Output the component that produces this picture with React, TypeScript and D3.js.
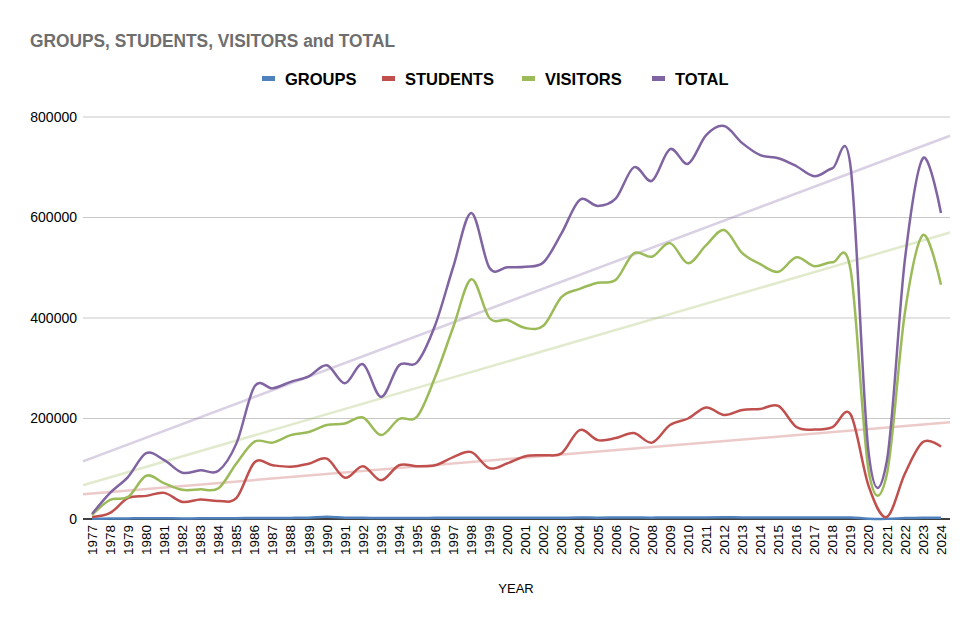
import { useMemo } from "react";
import * as d3 from "d3";

const WIDTH = 980;
const HEIGHT = 628;

const years = d3.range(1977, 2025);

const groups = [
    400, 900, 1200, 1500, 1400, 1200, 1300, 1300, 1500, 2200, 2100, 2200, 2600, 4500, 2400, 2300,
    1900, 2200, 2100, 2300, 2500, 2700, 2300, 2300, 2400, 2400, 2600, 2800, 2700, 2800, 2900, 2700,
    3000, 3000, 3200, 3300, 3200, 3100, 3000, 2900, 2800, 2900, 3000, 600, 300, 1800, 2600, 2400,
];
const students = [
    4000, 12000, 42000, 46000, 52000, 34000, 39000, 36000, 42000, 113000, 107000, 104000, 110000,
    120000, 82000, 105000, 77000, 107000, 105000, 107000, 123000, 133000, 101000, 111000, 125000,
    127000, 131000, 177000, 157000, 161000, 171000, 152000, 187000, 200000, 222000, 207000, 217000,
    219000, 225000, 183000, 178000, 183000, 208000, 65000, 4000, 90000, 153000, 144000,
];
const visitors = [
    8000, 38000, 44000, 86000, 71000, 58000, 59000, 61000, 111000, 154000, 152000, 167000, 173000,
    187000, 190000, 202000, 167000, 199000, 204000, 283000, 382000, 477000, 400000, 396000, 380000,
    385000, 442000, 458000, 470000, 476000, 529000, 522000, 549000, 509000, 545000, 575000, 529000,
    507000, 492000, 521000, 503000, 511000, 495000, 95000, 88000, 410000, 565000, 466000,
];
const total = [
    10000, 52000, 84000, 131000, 117000, 92000, 97000, 96000, 151000, 264000, 260000, 273000, 284000,
    306000, 270000, 308000, 243000, 306000, 312000, 386000, 502000, 609000, 500000, 501000, 502000,
    511000, 569000, 635000, 623000, 638000, 700000, 673000, 736000, 707000, 764000, 782000, 748000,
    724000, 718000, 702000, 682000, 698000, 700000, 130000, 115000, 515000, 718000, 609000,
];

const yTicks = [0, 200000, 400000, 600000, 800000];

const series = [
    { name: "GROUPS", values: groups, color: "#4f81bd" },
    { name: "STUDENTS", values: students, color: "#c0504d" },
    { name: "VISITORS", values: visitors, color: "#9bbb59" },
    { name: "TOTAL", values: total, color: "#8064a2" },
];

const legendX = [262, 382, 522, 652];

const LEFT = 83;
const RIGHT = 950;
const TOP = 117;
const BOTTOM = 519;

// least squares fit against the category index
const linearFit = (values: number[]) => {
    const n = values.length;
    const mx = (n - 1) / 2;
    const my = d3.mean(values)!;
    let sxy = 0;
    let sxx = 0;
    values.forEach((v, i) => {
        sxy += (i - mx) * (v - my);
        sxx += (i - mx) * (i - mx);
    });
    const slope = sxy / sxx;
    return (i: number) => my + slope * (i - mx);
};

export default function App() {
    const x = useMemo(() => d3.scaleBand<number>().domain(years).range([LEFT, RIGHT]), []);
    const y = useMemo(() => d3.scaleLinear().domain([0, 800000]).range([BOTTOM, TOP]), []);
    const cx = (yr: number) => x(yr)! + x.bandwidth() / 2;

    const line = d3
        .line<number>()
        .x((_, i) => cx(years[i]))
        .y((d) => y(d))
        .curve(d3.curveCatmullRom.alpha(0));

    const step = x.bandwidth();

    return (
        <div style={{ position: "absolute", left: 0, top: 0 }}>
            <svg width={WIDTH} height={HEIGHT} style={{ display: "block", fontFamily: "'Liberation Sans', Arial, sans-serif" }}>
                <rect width={WIDTH} height={HEIGHT} fill="#fff" />
                <text x={30} y={47} fontSize={17.5} fontWeight="bold" fill="#6e6e6e" textLength={365} lengthAdjust="spacingAndGlyphs">
                    GROUPS, STUDENTS, VISITORS and TOTAL
                </text>

                {series.map((s, i) => (
                    <g key={s.name} transform={`translate(${legendX[i]}, 0)`}>
                        <rect x={0} y={76} width={13} height={5} fill={s.color} />
                        <text x={23} y={84.5} fontSize={16.5} fontWeight="bold" fill="#000">
                            {s.name}
                        </text>
                    </g>
                ))}

                {yTicks.slice(1).map((t) => (
                    <line key={t} x1={LEFT} x2={RIGHT} y1={y(t)} y2={y(t)} stroke="#c8c8c8" strokeWidth={1} />
                ))}
                {yTicks.map((t) => (
                    <text key={t} x={77} y={y(t)} dy="0.35em" textAnchor="end" fontSize={14} fill="#000">
                        {t}
                    </text>
                ))}

                {series.slice(1).map((s) => {
                    const f = linearFit(s.values);
                    const n = s.values.length;
                    return (
                        <line
                            key={s.name}
                            x1={cx(years[0]) - step / 2}
                            x2={cx(years[n - 1]) + step / 2}
                            y1={y(f(-0.5))}
                            y2={y(f(n - 0.5))}
                            stroke={s.color}
                            strokeOpacity={0.3}
                            strokeWidth={2.5}
                        />
                    );
                })}

                <line x1={LEFT} x2={RIGHT} y1={BOTTOM} y2={BOTTOM} stroke="#000" strokeWidth={1.5} />

                {series.map((s) => (
                    <path key={s.name} d={line(s.values)!} fill="none" stroke={s.color} strokeWidth={2.5} />
                ))}

                {years.map((yr) => (
                    <text
                        key={yr}
                        transform={`translate(${cx(yr)}, 525) rotate(-90)`}
                        dy="0.35em"
                        textAnchor="end"
                        fontSize={13.5}
                        fill="#000"
                    >
                        {yr}
                    </text>
                ))}

                <text x={516} y={593} textAnchor="middle" fontSize={13} fill="#000">
                    YEAR
                </text>
            </svg>
        </div>
    );
}
